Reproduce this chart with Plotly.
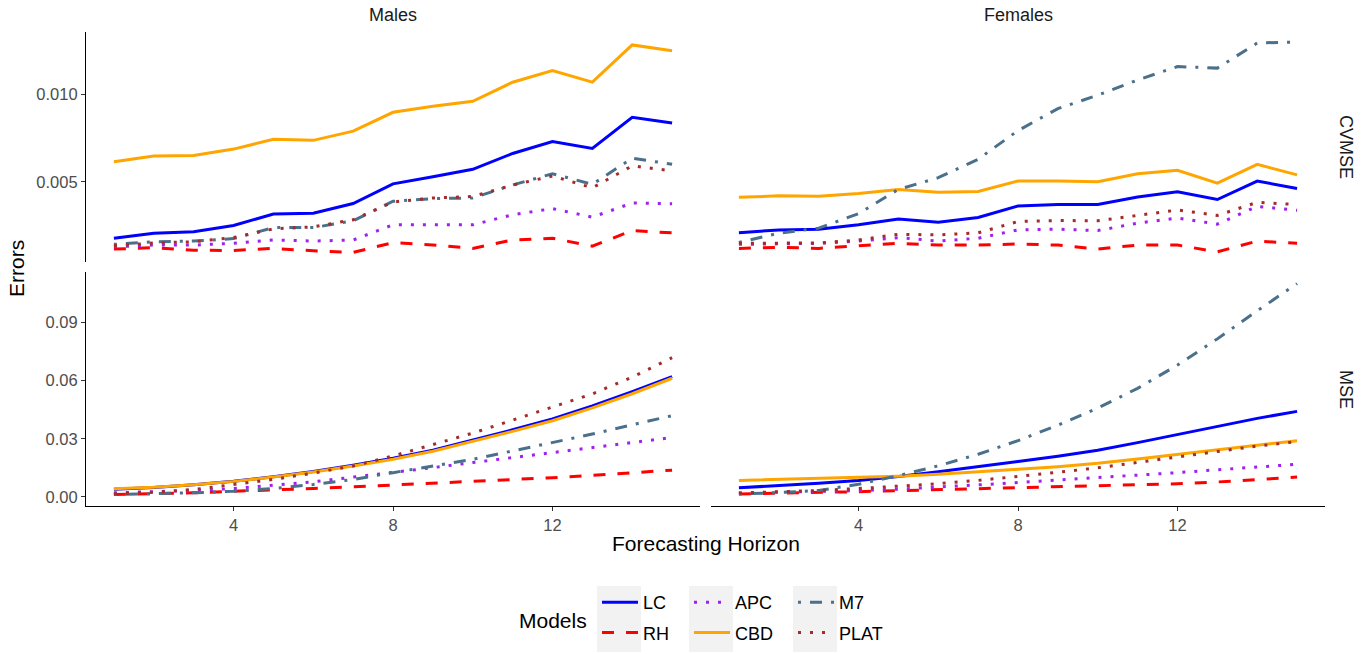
import plotly.graph_objects as go

W, H = 1370, 654

horizon = list(range(1, 16))
models = ["LC", "RH", "APC", "CBD", "M7", "PLAT"]

# ---- CVMSE, Males ----
cv_m_LC = [0.00176, 0.00205, 0.00214, 0.00249, 0.00315, 0.00319, 0.00375, 0.00488, 0.00529, 0.00571, 0.00662, 0.00730, 0.00691, 0.00869, 0.00836]
cv_m_RH = [0.00114, 0.00122, 0.00108, 0.00106, 0.00118, 0.00104, 0.00095, 0.00151, 0.00137, 0.00118, 0.00166, 0.00176, 0.00131, 0.00220, 0.00207]
cv_m_APC = [0.00127, 0.00137, 0.00137, 0.00147, 0.00166, 0.00160, 0.00166, 0.00253, 0.00253, 0.00253, 0.00311, 0.00346, 0.00297, 0.00378, 0.00374]
cv_m_CBD = [0.00614, 0.00647, 0.00651, 0.00687, 0.00743, 0.00737, 0.00790, 0.00898, 0.00932, 0.00961, 0.01070, 0.01137, 0.01071, 0.01284, 0.01251]
cv_m_M7 = [0.00141, 0.00156, 0.00160, 0.00174, 0.00237, 0.00237, 0.00276, 0.00388, 0.00403, 0.00407, 0.00481, 0.00546, 0.00485, 0.00635, 0.00600]
cv_m_PLAT = [0.00133, 0.00149, 0.00156, 0.00180, 0.00230, 0.00241, 0.00282, 0.00384, 0.00407, 0.00415, 0.00481, 0.00533, 0.00465, 0.00591, 0.00562]

# ---- CVMSE, Females ----
cv_f_LC = [0.00208, 0.00224, 0.00228, 0.00253, 0.00286, 0.00268, 0.00295, 0.00361, 0.00369, 0.00369, 0.00413, 0.00442, 0.00398, 0.00504, 0.00461]
cv_f_RH = [0.00118, 0.00124, 0.00118, 0.00133, 0.00147, 0.00137, 0.00137, 0.00143, 0.00137, 0.00114, 0.00137, 0.00137, 0.00098, 0.00160, 0.00147]
cv_f_APC = [0.00141, 0.00143, 0.00147, 0.00160, 0.00180, 0.00160, 0.00176, 0.00224, 0.00228, 0.00220, 0.00263, 0.00292, 0.00257, 0.00359, 0.00336]
cv_f_CBD = [0.00411, 0.00419, 0.00417, 0.00432, 0.00456, 0.00440, 0.00444, 0.00504, 0.00504, 0.00500, 0.00546, 0.00566, 0.00492, 0.00600, 0.00539]
cv_f_M7 = [0.00152, 0.00205, 0.00234, 0.00317, 0.00456, 0.00523, 0.00629, 0.00793, 0.00919, 0.00996, 0.01083, 0.01160, 0.01151, 0.01295, 0.01301]
cv_f_PLAT = [0.00147, 0.00149, 0.00149, 0.00166, 0.00199, 0.00195, 0.00207, 0.00272, 0.00278, 0.00276, 0.00307, 0.00338, 0.00307, 0.00382, 0.00369]

# ---- MSE, Males ----
ms_m_LC = [0.0039, 0.0049, 0.0063, 0.0081, 0.0104, 0.0131, 0.0163, 0.0199, 0.0241, 0.0293, 0.0346, 0.0402, 0.0469, 0.0543, 0.0620]
ms_m_RH = [0.0012, 0.0016, 0.0021, 0.0029, 0.0035, 0.0043, 0.0052, 0.0061, 0.0069, 0.0078, 0.0088, 0.0099, 0.0111, 0.0125, 0.0138]
ms_m_APC = [0.0021, 0.0026, 0.0033, 0.0043, 0.0059, 0.0078, 0.0102, 0.0125, 0.0151, 0.0177, 0.0203, 0.0228, 0.0254, 0.0280, 0.0306]
ms_m_CBD = [0.0042, 0.0050, 0.0063, 0.0080, 0.0102, 0.0128, 0.0159, 0.0194, 0.0235, 0.0286, 0.0338, 0.0393, 0.0459, 0.0532, 0.0612]
ms_m_M7 = [0.0012, 0.0016, 0.0021, 0.0029, 0.0043, 0.0064, 0.0090, 0.0125, 0.0159, 0.0194, 0.0237, 0.0280, 0.0324, 0.0372, 0.0419]
ms_m_PLAT = [0.0016, 0.0024, 0.0038, 0.0064, 0.0090, 0.0123, 0.0159, 0.0211, 0.0268, 0.0329, 0.0396, 0.0462, 0.0531, 0.0618, 0.0718]

# ---- MSE, Females ----
ms_f_LC = [0.0047, 0.0058, 0.0070, 0.0085, 0.0105, 0.0130, 0.0155, 0.0182, 0.0210, 0.0241, 0.0280, 0.0322, 0.0364, 0.0405, 0.0441]
ms_f_RH = [0.0015, 0.0018, 0.0022, 0.0027, 0.0032, 0.0037, 0.0042, 0.0047, 0.0052, 0.0057, 0.0062, 0.0068, 0.0077, 0.0089, 0.0102]
ms_f_APC = [0.0020, 0.0023, 0.0027, 0.0032, 0.0040, 0.0050, 0.0062, 0.0074, 0.0086, 0.0099, 0.0112, 0.0125, 0.0140, 0.0154, 0.0168]
ms_f_CBD = [0.0085, 0.0090, 0.0095, 0.0100, 0.0107, 0.0117, 0.0128, 0.0142, 0.0156, 0.0173, 0.0195, 0.0218, 0.0243, 0.0266, 0.0290]
ms_f_M7 = [0.0015, 0.0022, 0.0033, 0.0065, 0.0110, 0.0160, 0.0220, 0.0290, 0.0370, 0.0458, 0.0560, 0.0680, 0.0815, 0.0960, 0.1100]
ms_f_PLAT = [0.0020, 0.0026, 0.0033, 0.0043, 0.0055, 0.0068, 0.0085, 0.0105, 0.0127, 0.0150, 0.0178, 0.0207, 0.0235, 0.0262, 0.0285]

x_ticks = [4, 8, 12]
cv_ticks = [0.005, 0.010]
cv_ticklabels = ["0.005", "0.010"]
ms_ticks = [0.00, 0.03, 0.06, 0.09]
ms_ticklabels = ["0.00", "0.03", "0.06", "0.09"]
strip_cols = ["Males", "Females"]
strip_rows = ["CVMSE", "MSE"]

data = {
    ("CVMSE", "Males"): [cv_m_LC, cv_m_RH, cv_m_APC, cv_m_CBD, cv_m_M7, cv_m_PLAT],
    ("CVMSE", "Females"): [cv_f_LC, cv_f_RH, cv_f_APC, cv_f_CBD, cv_f_M7, cv_f_PLAT],
    ("MSE", "Males"): [ms_m_LC, ms_m_RH, ms_m_APC, ms_m_CBD, ms_m_M7, ms_m_PLAT],
    ("MSE", "Females"): [ms_f_LC, ms_f_RH, ms_f_APC, ms_f_CBD, ms_f_M7, ms_f_PLAT],
}

colors = {"LC": "#0000FF", "RH": "#FF0000", "APC": "#A020F0", "CBD": "#FFA500", "M7": "#4A708B", "PLAT": "#A52A2A"}
dashes = {"LC": "solid", "RH": "12px,12px", "APC": "3px,9px", "CBD": "solid", "M7": "3px,9px,12px,9px", "PLAT": "3px,9px"}
legend_of = {"LC": "legend", "RH": "legend", "APC": "legend2", "CBD": "legend2", "M7": "legend3", "PLAT": "legend3"}

axes = {("CVMSE", "Males"): ("x", "y"), ("CVMSE", "Females"): ("x2", "y2"),
        ("MSE", "Males"): ("x3", "y3"), ("MSE", "Females"): ("x4", "y4")}

fig = go.Figure()
for key, series in data.items():
    xa, ya = axes[key]
    for m, vals in zip(models, series):
        fig.add_trace(go.Scatter(
            x=horizon, y=vals, mode="lines", name=m,
            line=dict(color=colors[m], width=3, dash=dashes[m]),
            xaxis=xa, yaxis=ya, legend=legend_of[m], legendgroup=m,
            showlegend=(key == ("CVMSE", "Males")),
        ))

def px_x(p):
    return p / W

def px_y(p):
    return 1 - p / H

xl = [px_x(86), px_x(700)]
xr = [px_x(711), px_x(1325)]
yt = [px_y(262), px_y(32)]
yb = [px_y(506), px_y(272)]

FONT = "Liberation Sans, Arial, Helvetica"
tickfont = dict(family=FONT, size=16.5, color="#4d4d4d")
xrange = [0.3, 15.7]
cvrange = [0.00040, 0.01358]
msrange = [-0.0047, 0.1160]

base_x = dict(range=xrange, tickvals=x_ticks, showgrid=False, zeroline=False,
              tickfont=tickfont, ticklen=4, tickcolor="#333333", tickwidth=1)

fig.update_layout(
    xaxis=dict(domain=xl, anchor="y", showticklabels=False, ticks="", showline=False, **base_x),
    xaxis2=dict(domain=xr, anchor="y2", showticklabels=False, ticks="", showline=False, **base_x),
    xaxis3=dict(domain=xl, anchor="y3", ticks="outside", showline=True, linecolor="black", linewidth=1.2, **base_x),
    xaxis4=dict(domain=xr, anchor="y4", ticks="outside", showline=True, linecolor="black", linewidth=1.2, **base_x),
    yaxis=dict(domain=yt, anchor="x", range=cvrange, tickvals=cv_ticks, ticktext=cv_ticklabels,
               showgrid=False, zeroline=False, showline=True, linecolor="black", linewidth=1.2,
               ticks="outside", ticklen=4, tickcolor="#333333", tickfont=tickfont),
    yaxis2=dict(domain=yt, anchor="x2", range=cvrange, showgrid=False, zeroline=False,
                showticklabels=False, showline=False, ticks=""),
    yaxis3=dict(domain=yb, anchor="x3", range=msrange, tickvals=ms_ticks, ticktext=ms_ticklabels,
                showgrid=False, zeroline=False, showline=True, linecolor="black", linewidth=1.2,
                ticks="outside", ticklen=4, tickcolor="#333333", tickfont=tickfont),
    yaxis4=dict(domain=yb, anchor="x4", range=msrange, showgrid=False, zeroline=False,
                showticklabels=False, showline=False, ticks=""),
)

legend_common = dict(orientation="v", xanchor="left", yanchor="top", bgcolor="rgba(0,0,0,0)",
                     font=dict(family=FONT, size=18, color="#000000"),
                     traceorder="grouped", tracegroupgap=4, itemwidth=36)
fig.update_layout(
    legend=dict(x=px_x(597), y=px_y(584), **legend_common),
    legend2=dict(x=px_x(689), y=px_y(584), **legend_common),
    legend3=dict(x=px_x(793), y=px_y(584), **legend_common),
)

shapes = []
for x0 in (597, 689, 793):
    shapes.append(dict(type="rect", xref="paper", yref="paper", x0=px_x(x0), x1=px_x(x0 + 44),
                       y0=px_y(652), y1=px_y(586), fillcolor="#f2f2f2", line=dict(width=0), layer="below"))

ann = []
strip_font = dict(family=FONT, size=18, color="#1a1a1a")
ann.append(dict(text=strip_cols[0], x=(xl[0] + xl[1]) / 2, y=px_y(15), xref="paper", yref="paper",
                xanchor="center", yanchor="middle", showarrow=False, font=strip_font))
ann.append(dict(text=strip_cols[1], x=(xr[0] + xr[1]) / 2, y=px_y(15), xref="paper", yref="paper",
                xanchor="center", yanchor="middle", showarrow=False, font=strip_font))
ann.append(dict(text=strip_rows[0], x=px_x(1346), y=(yt[0] + yt[1]) / 2, xref="paper", yref="paper",
                xanchor="center", yanchor="middle", showarrow=False, textangle=90, font=strip_font))
ann.append(dict(text=strip_rows[1], x=px_x(1346), y=(yb[0] + yb[1]) / 2, xref="paper", yref="paper",
                xanchor="center", yanchor="middle", showarrow=False, textangle=90, font=strip_font))
title_font = dict(family=FONT, size=21, color="#000000")
ann.append(dict(text="Errors", x=px_x(16), y=px_y(268), xref="paper", yref="paper",
                xanchor="center", yanchor="middle", showarrow=False, textangle=-90, font=title_font))
ann.append(dict(text="Forecasting Horizon", x=(xl[0] + xr[1]) / 2, y=px_y(543), xref="paper", yref="paper",
                xanchor="center", yanchor="middle", showarrow=False, font=title_font))
ann.append(dict(text="Models", x=px_x(553), y=px_y(620), xref="paper", yref="paper",
                xanchor="center", yanchor="middle", showarrow=False, font=title_font))

fig.update_layout(
    width=W, height=H, margin=dict(l=0, r=0, t=0, b=0),
    paper_bgcolor="white", plot_bgcolor="white",
    shapes=shapes, annotations=ann, showlegend=True,
    font=dict(family=FONT),
)

fig.write_html("out.html")
